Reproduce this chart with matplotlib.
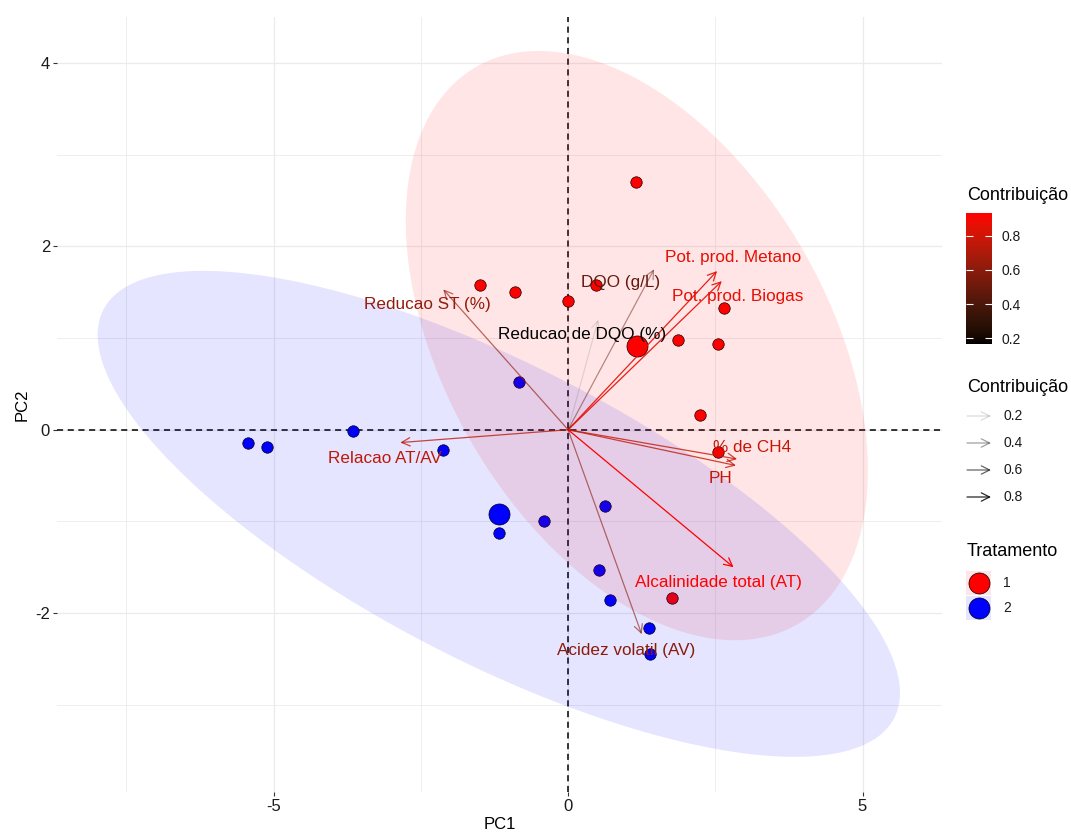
import numpy as np
import matplotlib
matplotlib.use("Agg")
import matplotlib.pyplot as plt
from matplotlib.colors import ListedColormap, Normalize
from matplotlib.cm import ScalarMappable
from matplotlib.patches import Polygon, Rectangle

plt.rcParams['font.family'] = ['Liberation Sans', 'DejaVu Sans']
plt.rcParams['axes.unicode_minus'] = False

# individuals (PC scores) per treatment
t1_pc1 = [1.15, -1.50, -0.91, 0.00, 0.48, 2.65, 1.87, 2.55, 2.24, 2.55, 1.76]
t1_pc2 = [2.70, 1.58, 1.50, 1.40, 1.58, 1.33, 0.98, 0.93, 0.16, -0.24, -1.83]
t2_pc1 = [-5.44, -5.11, -3.66, -2.12, -0.84, -1.17, -0.41, 0.63, 0.53, 0.71, 1.37, 1.39]
t2_pc2 = [-0.15, -0.19, -0.01, -0.22, 0.52, -1.13, -1.00, -0.83, -1.53, -1.86, -2.16, -2.45]
groups = ['1', '2']

# variables (arrows)
var_names = ['Pot. prod. Metano', 'Pot. prod. Biogas', 'DQO (g/L)', 'Reducao de DQO (%)',
             'Reducao ST (%)', 'Relacao AT/AV', '% de CH4', 'PH',
             'Alcalinidade total (AT)', 'Acidez volatil (AV)']
var_pc1 = [2.53, 2.61, 1.46, 0.51, -2.12, -2.85, 2.87, 2.85, 2.81, 1.25]
var_pc2 = [1.73, 1.62, 1.75, 1.20, 1.53, -0.14, -0.32, -0.39, -1.50, -2.23]
var_contrib = [0.86, 0.87, 0.48, 0.166, 0.63, 0.75, 0.77, 0.76, 0.934, 0.60]

# label nudges (ggrepel-like placement)
label_nudge = [(0.27, 0.15), (0.27, -0.17), (-0.57, -0.15), (-0.27, -0.16), (-0.27, -0.16),
               (-0.27, -0.17), (0.26, 0.13), (-0.27, -0.14), (-0.26, -0.17), (-0.26, -0.175)]


def lab_to_rgb(L, a, b):
    fy = (L + 16) / 116
    fx = fy + a / 500
    fz = fy - b / 200
    def finv(t):
        return t ** 3 if t ** 3 > 0.008856 else (t - 16 / 116) / 7.787
    X, Y, Z = 0.95047 * finv(fx), finv(fy), 1.08883 * finv(fz)
    rgb = np.array([3.2406 * X - 1.5372 * Y - 0.4986 * Z,
                    -0.9689 * X + 1.8758 * Y + 0.0415 * Z,
                    0.0557 * X - 0.2040 * Y + 1.0570 * Z])
    rgb = np.where(rgb <= 0.0031308, 12.92 * rgb, 1.055 * np.clip(rgb, 0, None) ** (1 / 2.4) - 0.055)
    return np.clip(rgb, 0, 1)


# black -> red gradient interpolated in Lab like ggplot
cmap = ListedColormap([lab_to_rgb(53.24 * t, 80.09 * t, 67.20 * t) for t in np.linspace(0, 1, 256)])
norm = Normalize(min(var_contrib), max(var_contrib))


def alpha_of(v):
    return 0.1 + 0.9 * (v - norm.vmin) / (norm.vmax - norm.vmin)


def ellipse(x, y, r, n=200):
    x, y = np.asarray(x), np.asarray(y)
    L = np.linalg.cholesky(np.cov(x, y))
    t = np.linspace(0, 2 * np.pi, n)
    pts = r * (L @ np.vstack([np.cos(t), np.sin(t)]))
    return np.column_stack([x.mean() + pts[0], y.mean() + pts[1]])


W, H = 1071, 836
fig = plt.figure(figsize=(W / 100, H / 100), dpi=100)
ax = fig.add_axes([57 / W, 1 - 792 / H, (942 - 57) / W, (792 - 17) / H])
ax.set_xlim(-8.68, 6.35)
ax.set_ylim(-3.95, 4.50)
for s in ax.spines.values():
    s.set_visible(False)
ax.set_xticks([-5, 0, 5])
ax.set_xticks([-7.5, -2.5, 2.5], minor=True)
ax.set_yticks([-2, 0, 2, 4])
ax.set_yticks([-3, -1, 1, 3], minor=True)
ax.grid(which='major', color='#EBEBEB', lw=0.9)
ax.grid(which='minor', color='#EBEBEB', lw=0.6)
ax.set_axisbelow(True)
ax.tick_params(which='major', length=3, width=0.8, color='#333333', labelsize=12,
               labelcolor='#1a1a1a', pad=2)
ax.tick_params(which='minor', length=0)
ax.set_xlabel('PC1', fontsize=12, labelpad=2)
ax.set_ylabel('PC2', fontsize=12, labelpad=4)

ax.axhline(0, color='black', lw=1.1, ls=(0, (4, 3)), zorder=1)
ax.axvline(0, color='black', lw=1.1, ls=(0, (4, 3)), zorder=1)

grp_pts = [(t1_pc1, t1_pc2), (t2_pc1, t2_pc2)]
grp_col = ['#FF0000', '#0000FF']
ell_r = [2.69, 2.82]
for (gx, gy), c, r in zip(grp_pts, grp_col, ell_r):
    ax.scatter(gx, gy, s=68, c=c, edgecolors='black', linewidths=0.5, zorder=2)
    ax.scatter(np.mean(gx), np.mean(gy), s=230, c=c, edgecolors='black', linewidths=0.5, zorder=2)
    ax.add_patch(Polygon(ellipse(gx, gy, r), closed=True, facecolor=c, alpha=0.1,
                         edgecolor='none', zorder=3))

for name, x, y, v, (dx, dy) in zip(var_names, var_pc1, var_pc2, var_contrib, label_nudge):
    col = cmap(norm(v))
    ax.annotate('', xy=(x, y), xytext=(0, 0),
                arrowprops=dict(arrowstyle='->,head_length=0.6,head_width=0.3', color=col,
                                alpha=alpha_of(v), lw=0.9, shrinkA=0, shrinkB=0,
                                mutation_scale=10), zorder=4)
    ax.text(x + dx, y + dy, name, color=col, fontsize=12.3, ha='center', va='center', zorder=5)

# colour bar legend
fig.text(967 / W, 1 - 196 / H, 'Contribuição', fontsize=13, va='center', ha='left')
cax = fig.add_axes([966 / W, 1 - 344 / H, 26 / W, 131 / H])
cb = fig.colorbar(ScalarMappable(norm=norm, cmap=cmap), cax=cax, ticks=[0.2, 0.4, 0.6, 0.8])
cb.outline.set_visible(False)
cax.tick_params(direction='in', color='white', length=5, width=0.8, left=True, right=True,
                labelsize=10, labelcolor='#1a1a1a', pad=7)
cax.set_yticklabels(['0.2', '0.4', '0.6', '0.8'])

# alpha legend and treatment legend drawn in a pixel-space overlay
lax = fig.add_axes([0, 0, 1, 1])
lax.set_xlim(0, W)
lax.set_ylim(H, 0)
lax.axis('off')
lax.text(967, 387, 'Contribuição', fontsize=13, va='center', ha='left')
alpha_levels = [0.2, 0.4, 0.6, 0.8]
for i, v in enumerate(alpha_levels):
    yy = 416 + i * 27
    lax.annotate('', xy=(991, yy), xytext=(967, yy),
                 arrowprops=dict(arrowstyle='->,head_length=0.6,head_width=0.3', color='black',
                                 alpha=alpha_of(v), lw=0.9, shrinkA=0, shrinkB=0,
                                 mutation_scale=10))
    lax.text(1003, yy, f'{v:.1f}', fontsize=10, va='center', ha='left', color='#1a1a1a')

lax.text(967, 552, 'Tratamento', fontsize=13, va='center', ha='left')
for i, (g, c) in enumerate(zip(groups, grp_col)):
    yy = 583 + i * 25
    lax.add_patch(Rectangle((966, yy - 12), 25, 24, facecolor=c, alpha=0.1, edgecolor='none'))
    lax.scatter([978.5], [yy], s=230, c=c, edgecolors='black', linewidths=0.5)
    lax.text(1003, yy, g, fontsize=10, va='center', ha='left', color='#1a1a1a')

fig.savefig('out.png', dpi=100)
